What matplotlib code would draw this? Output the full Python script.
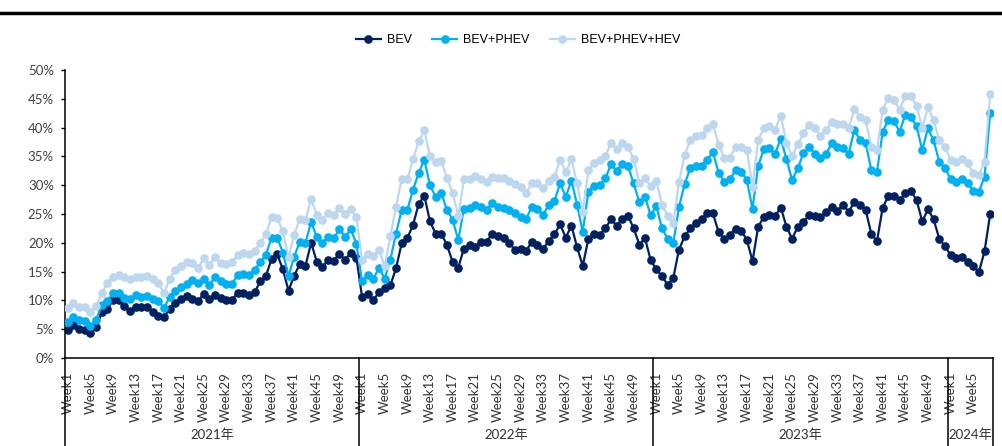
import matplotlib
matplotlib.use('Agg')
import matplotlib.pyplot as plt
from matplotlib import transforms
from matplotlib.lines import Line2D
from matplotlib.ticker import FuncFormatter

years = ['2021年', '2022年', '2023年', '2024年']
weeks_per_year = [52, 52, 52, 8]

# weekly penetration, %
bev = [
    # 2021
    4.9, 5.7, 5.1, 4.9, 4.3, 5.3, 7.9, 8.5, 10.1, 10.0, 9.0, 8.2, 8.9,
    8.8, 8.9, 7.9, 7.3, 7.1, 8.5, 9.6, 10.3, 10.8, 10.3, 9.9, 11.1, 10.2,
    10.9, 10.4, 10.0, 10.1, 11.3, 11.2, 11.0, 11.4, 13.3, 14.2, 17.2, 18.0, 15.4,
    11.7, 14.3, 16.3, 16.0, 20.0, 16.7, 15.8, 17.0, 16.9, 18.1, 17.0, 18.3, 17.4,
    # 2022
    10.6, 11.1, 10.1, 11.4, 12.2, 12.6, 15.6, 19.9, 20.8, 23.1, 26.7, 28.2, 23.7,
    21.6, 21.6, 19.6, 16.7, 15.7, 19.0, 19.6, 19.2, 20.2, 20.2, 21.6, 21.2, 20.9,
    20.0, 18.8, 19.0, 18.6, 20.2, 19.6, 19.0, 20.3, 21.5, 23.2, 20.9, 23.0, 19.2,
    16.0, 20.7, 21.5, 21.4, 22.5, 24.1, 23.0, 24.1, 24.7, 22.5, 19.7, 20.8, 17.0,
    # 2023
    15.4, 14.2, 12.7, 13.9, 18.8, 21.1, 22.5, 23.4, 24.2, 25.1, 25.1, 21.9, 20.7,
    21.4, 22.4, 22.1, 20.5, 16.8, 22.8, 24.5, 24.8, 24.7, 26.1, 22.8, 20.7, 22.8,
    23.6, 24.8, 24.7, 24.4, 25.3, 26.3, 25.5, 26.6, 25.4, 27.1, 26.6, 25.7, 21.5,
    20.3, 26.1, 28.1, 28.1, 27.4, 28.6, 29.0, 27.4, 23.7, 25.8, 24.1, 20.7, 19.4,
    # 2024
    17.9, 17.4, 17.6, 16.7, 15.9, 14.9, 18.5, 25.0,
]

bev_phev = [
    # 2021
    6.3, 7.1, 6.6, 6.5, 5.6, 6.6, 9.2, 9.9, 11.3, 11.3, 10.5, 10.2, 10.9,
    10.6, 10.8, 10.2, 9.9, 8.7, 10.6, 11.7, 12.3, 12.9, 13.5, 13.0, 13.7, 12.7,
    14.0, 13.3, 12.8, 12.9, 14.4, 14.5, 14.4, 15.2, 16.7, 17.9, 20.9, 20.9, 18.3,
    14.2, 17.6, 20.2, 20.0, 23.6, 21.0, 20.0, 21.0, 20.8, 22.4, 21.0, 22.4, 19.8,
    # 2022
    13.3, 14.4, 13.8, 15.6, 13.8, 17.1, 21.6, 25.7, 25.7, 29.2, 32.1, 34.4, 30.0,
    28.0, 28.6, 25.7, 24.0, 20.5, 25.9, 26.1, 26.6, 26.3, 25.7, 26.9, 26.3, 26.1,
    25.7, 25.1, 24.5, 24.1, 26.3, 25.8, 24.9, 26.6, 27.3, 30.3, 28.0, 30.8, 26.6,
    21.9, 28.9, 29.9, 30.0, 31.2, 33.6, 32.5, 33.6, 33.3, 30.3, 27.1, 28.0, 24.8,
    # 2023
    26.4, 22.5, 20.7, 19.9, 26.2, 30.2, 32.9, 33.3, 33.4, 34.4, 35.8, 32.2, 30.6,
    31.0, 32.6, 32.3, 30.9, 25.9, 33.4, 36.2, 36.4, 35.5, 38.1, 34.5, 30.9, 32.9,
    35.6, 36.6, 35.5, 34.7, 35.4, 37.3, 36.7, 36.5, 35.5, 39.6, 37.8, 37.3, 32.6,
    32.3, 39.3, 41.3, 41.1, 39.3, 42.2, 41.8, 40.2, 36.1, 39.9, 37.8, 34.1, 33.0,
    # 2024
    31.1, 30.6, 31.1, 30.4, 29.0, 28.8, 31.5, 42.5,
]

bev_phev_hev = [
    # 2021
    8.6, 9.5, 8.9, 8.8, 8.0, 9.0, 11.2, 13.1, 14.1, 14.4, 14.0, 13.7, 14.1,
    14.0, 14.3, 13.7, 13.1, 11.2, 13.8, 15.3, 16.0, 16.7, 16.5, 15.6, 17.3, 16.1,
    17.6, 16.5, 16.4, 16.7, 17.9, 18.2, 18.0, 18.6, 20.0, 21.5, 24.4, 24.3, 22.0,
    17.5, 21.4, 24.2, 23.9, 27.6, 24.8, 24.0, 25.2, 24.8, 26.1, 25.0, 25.9, 24.4,
    # 2022
    17.0, 18.0, 17.7, 18.8, 15.9, 21.1, 26.3, 31.0, 31.0, 34.5, 37.6, 39.5, 35.1,
    34.1, 34.2, 31.2, 28.7, 24.7, 31.0, 31.1, 31.6, 31.1, 30.6, 31.4, 31.2, 31.2,
    30.8, 30.2, 29.7, 28.7, 30.4, 30.4, 29.5, 30.8, 31.5, 34.4, 32.3, 34.5, 30.3,
    25.4, 32.6, 33.9, 34.3, 35.0, 37.4, 36.2, 37.4, 36.7, 34.5, 30.4, 31.2, 29.8,
    # 2023
    30.8, 26.6, 24.7, 23.4, 30.5, 35.2, 37.8, 38.6, 38.8, 39.9, 40.7, 37.0, 34.8,
    34.8, 36.7, 36.7, 36.1, 29.7, 37.8, 40.0, 40.2, 39.6, 42.1, 37.3, 35.0, 37.1,
    39.0, 40.5, 39.9, 38.6, 39.6, 41.0, 40.7, 40.6, 39.9, 43.2, 41.8, 41.3, 36.7,
    36.1, 43.1, 45.1, 44.8, 43.1, 45.5, 45.4, 43.8, 39.9, 43.5, 41.3, 37.8, 36.7,
    # 2024
    34.4, 34.1, 34.5, 33.8, 32.2, 31.7, 34.1, 45.8,
]

series = [
    ('BEV', bev, '#002060'),
    ('BEV+PHEV', bev_phev, '#00B0F0'),
    ('BEV+PHEV+HEV', bev_phev_hev, '#BDD7EE'),
]

LABEL_FONT = ['Lato', 'Noto Sans CJK SC', 'DejaVu Sans']
plt.rcParams['font.family'] = LABEL_FONT

W, H = 1003, 446
fig = plt.figure(figsize=(W / 100, H / 100), dpi=100)
ax = fig.add_axes([65 / W, 1 - 358 / H, (993 - 65) / W, 288 / H])

n = sum(weeks_per_year)
xs = [i + 0.5 for i in range(n)]

for z, (name, vals, color) in enumerate(series):
    ax.plot(xs, vals, color=color, lw=1.6, marker='o', ms=5.2,
            mec=color, mfc=color, label=name, zorder=2 + z)

ax.set_xlim(0, n)
ax.set_ylim(0, 50)
ax.set_yticks(range(0, 51, 5))
ax.yaxis.set_major_formatter(FuncFormatter(lambda v, p: f'{v:.0f}%'))
ax.tick_params(axis='y', length=3, width=1, pad=5, labelsize=9.5,
               colors='#333333')
ax.tick_params(axis='y', colors='black', labelcolor='#404040')

for s in ('top', 'right'):
    ax.spines[s].set_visible(False)
for s in ('left', 'bottom'):
    ax.spines[s].set_linewidth(1.1)
    ax.spines[s].set_color('black')

# week ticks every 4 weeks inside each year
tick_pos, tick_lab = [], []
start = 0
bounds = [0]
for nw in weeks_per_year:
    for w in range(1, nw + 1, 4):
        tick_pos.append(start + w - 0.5)
        tick_lab.append(f'Week{w}')
    start += nw
    bounds.append(start)
ax.set_xticks(tick_pos)
ax.set_xticklabels(tick_lab, rotation=90, fontsize=9.5, color='#333333')
ax.tick_params(axis='x', length=0, pad=10)

# year group boxes under the axis
trans = transforms.blended_transform_factory(ax.transData, ax.transAxes)
for b in bounds:
    ax.plot([b, b], [0, -0.31], transform=trans, color='black', lw=1.1,
            clip_on=False)
for yr, a, b in zip(years, bounds[:-1], bounds[1:]):
    ax.text((a + b) / 2, -0.268, yr, transform=trans, ha='center',
            va='center', fontsize=9.5, color='#333333')

leg = fig.legend(loc='center', bbox_to_anchor=(518 / W, 1 - 40 / H), ncol=3,
                 frameon=False, handlelength=2.0, columnspacing=1.6,
                 handletextpad=0.5,
                 prop={'family': ['Liberation Sans Narrow', 'Liberation Sans'],
                       'size': 9})

fig.add_artist(Line2D([0, 1], [1 - 13 / H] * 2, color='black', lw=2.5))

fig.savefig('out.png', dpi=100)
